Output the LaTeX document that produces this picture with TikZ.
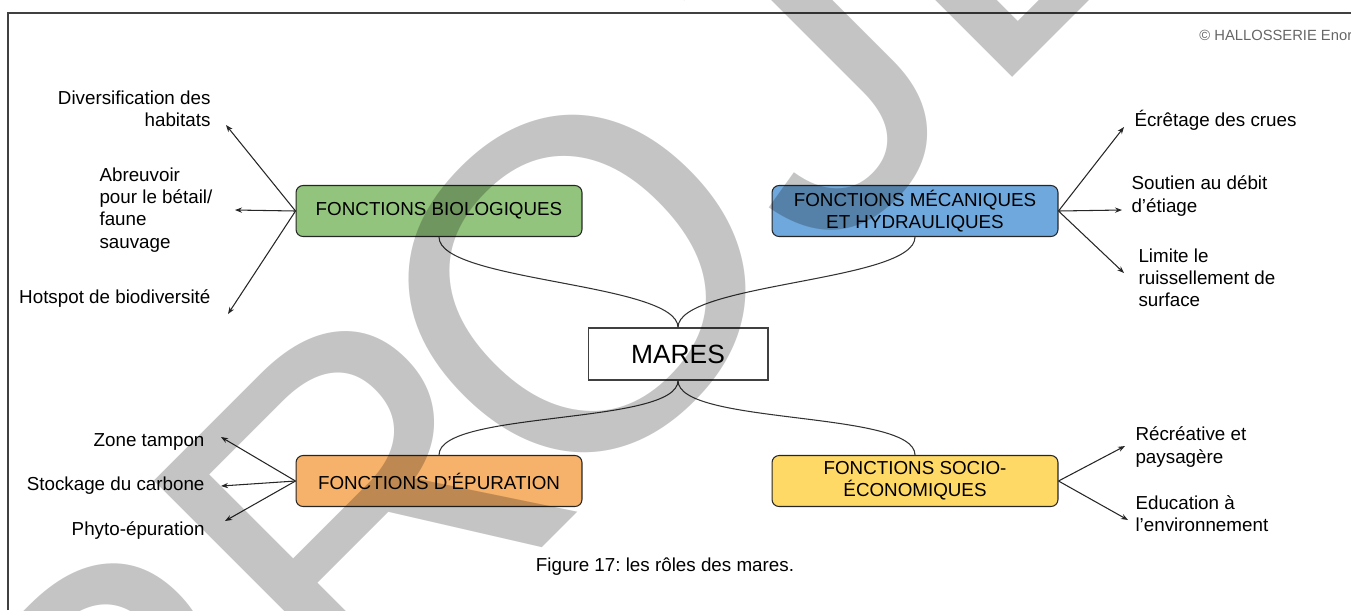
\documentclass[tikz,border=0pt]{standalone}
\usepackage{fontspec}
\setmainfont{Liberation Sans}
\usetikzlibrary{arrows.meta}
\definecolor{vertbio}{HTML}{93C47D}
\definecolor{bleumeca}{HTML}{6FA8DC}
\definecolor{orangeepu}{HTML}{F6B26B}
\definecolor{jaunesocio}{HTML}{FFD966}
\frenchspacing
\begin{document}
\begin{tikzpicture}[x=0.02cm,y=-0.02cm,line width=0.6pt]
      \tikzstyle{every node}=[font=\fontsize{10.7}{12.6}\selectfont];
      \tikzstyle{fonction}=[draw=black!85,rounded corners=4pt,minimum width=5.72cm,minimum height=1.02cm,align=center,inner sep=2pt];
      \tikzstyle{role}=[inner sep=0pt];
      \tikzstyle{fleche}=[-{Stealth[length=4pt,width=3pt]},black!85];
      \tikzstyle{lien}=[black!80];
      \useasboundingbox (0,0) rectangle (1351,610);

      \draw[black!75,line width=0.8pt] (8,610) -- (8,13) -- (1351,13);
      \node[anchor=west,text=black!60,font=\fontsize{8.4}{10}\selectfont] (copyright) at (1193,35) {© HALLOSSERIE Enora};

      \node[fonction,fill=vertbio] (bio) at (439,211) {FONCTIONS BIOLOGIQUES};
      \node[fonction,fill=bleumeca] (meca) at (915,211) {FONCTIONS MÉCANIQUES\\ET HYDRAULIQUES};
      \node[fonction,fill=orangeepu] (epur) at (439,481) {FONCTIONS D'ÉPURATION};
      \node[fonction,fill=jaunesocio] (socio) at (915,481) {FONCTIONS SOCIO-\\ÉCONOMIQUES};
      \node[draw=black!75,fill=white,minimum width=3.6cm,minimum height=1.04cm,font=\fontsize{15}{18}\selectfont] (mares) at (678,354) {MARES};

      \draw[lien] (bio.south) .. controls +(0,45) and +(0,-45) .. (mares.north);
      \draw[lien] (meca.south) .. controls +(0,45) and +(0,-45) .. (mares.north);
      \draw[lien] (epur.north) .. controls +(0,-45) and +(0,45) .. (mares.south);
      \draw[lien] (socio.north) .. controls +(0,-45) and +(0,45) .. (mares.south);

      \node[role,anchor=east,align=right] (habitats) at (211,109) {Diversification des\\habitats};
      \node[role,anchor=west,align=left] (abreuvoir) at (99,210) {Abreuvoir\\pour le bétail/\\faune\\sauvage};
      \node[role,anchor=east] (hotspot) at (211,299) {Hotspot de biodiversité};
      \node[role,anchor=west] (crues) at (1134,120) {Écrêtage des crues};
      \node[role,anchor=west,align=left] (etiage) at (1131,196) {Soutien au débit\\d'étiage};
      \node[role,anchor=west,align=left] (ruissellement) at (1138,278) {Limite le\\ruissellement de\\surface};
      \node[role,anchor=east] (tampon) at (205,442) {Zone tampon};
      \node[role,anchor=east] (carbone) at (205,486) {Stockage du carbone};
      \node[role,anchor=east] (phyto) at (205,531) {Phyto-épuration};
      \node[role,anchor=west,align=left] (paysage) at (1135,447) {Récréative et\\paysagère};
      \node[role,anchor=west,align=left] (education) at (1135,514) {Education à\\l'environnement};

      \coordinate (b1) at (226,125);
      \coordinate (b2) at (235,210);
      \coordinate (b3) at (228,314);
      \coordinate (m1) at (1124,127);
      \coordinate (m2) at (1122,210);
      \coordinate (m3) at (1124,273);
      \coordinate (e1) at (221,437);
      \coordinate (e2) at (221,486);
      \coordinate (e3) at (225,521);
      \coordinate (s1) at (1125,446);
      \coordinate (s2) at (1128,520);
      \draw[fleche] (bio.west) -- (b1);
      \draw[fleche] (bio.west) -- (b2);
      \draw[fleche] (bio.west) -- (b3);
      \draw[fleche] (meca.east) -- (m1);
      \draw[fleche] (meca.east) -- (m2);
      \draw[fleche] (meca.east) -- (m3);
      \draw[fleche] (epur.west) -- (e1);
      \draw[fleche] (epur.west) -- (e2);
      \draw[fleche] (epur.west) -- (e3);
      \draw[fleche] (socio.east) -- (s1);
      \draw[fleche] (socio.east) -- (s2);

      \node (legende) at (665,567) {Figure 17: les rôles des mares.};

      \begin{scope}[blend mode=multiply]
      \node[text=black!23,rotate=45,anchor=base west,inner sep=0pt,font=\fontsize{266}{266}\selectfont] (filigrane) at (134,956) {PR\kern-24pt OJET};
      \end{scope}
    \end{tikzpicture}
\end{document}
